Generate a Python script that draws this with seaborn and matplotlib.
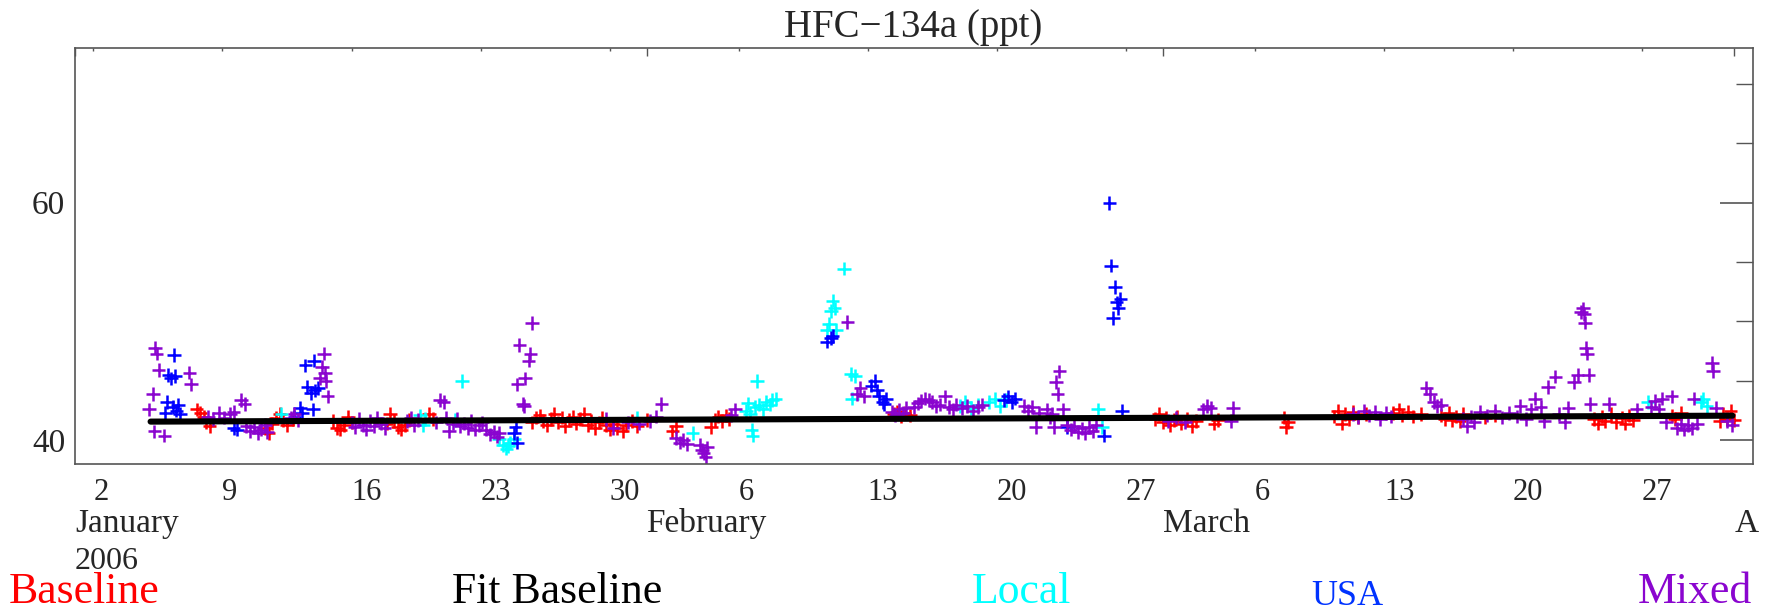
import matplotlib
matplotlib.use("Agg")
import matplotlib.pyplot as plt
import matplotlib.dates as mdates
import matplotlib.ticker as mticker
from matplotlib.transforms import blended_transform_factory
import pandas as pd
import seaborn as sns

START = pd.Timestamp("2006-01-01")

# days after 2006-01-01 00:00, mixing ratio in ppt
baseline_days = [
    6.6, 6.8, 7.0, 7.1, 7.3, 10.3, 10.5, 10.7, 10.9, 11.1, 11.3, 11.5, 11.8,
    14.0, 14.2, 14.4, 14.6, 14.8, 15.0, 16.9, 17.1, 17.3, 17.5, 17.7, 17.9, 18.1,
    19.2, 19.4, 24.8, 25.0, 25.2, 25.4, 25.6, 25.8, 26.0, 26.2, 26.4, 26.6, 26.8,
    27.0, 27.2, 27.4, 27.6, 27.8, 28.0, 28.2, 28.4, 28.6, 28.8, 29.0, 29.2, 29.4,
    29.7, 29.9, 30.2, 30.5, 31.0, 32.4, 32.6, 34.5, 34.7, 34.9, 35.1, 35.3, 35.5,
    44.4, 44.6, 44.8, 45.0, 45.3, 58.6, 58.8, 59.0, 59.2, 59.4, 59.6, 59.8, 60.0,
    60.3, 60.6, 60.8, 61.8, 62.0, 65.6, 65.7, 65.8, 68.3, 68.5, 68.7, 68.9, 69.1,
    69.3, 69.6, 70.0, 71.5, 71.8, 72.0, 72.3, 72.6, 73.0, 74.1, 74.3, 74.5, 74.7,
    74.9, 75.1, 75.3, 76.5, 77.0, 82.4, 82.6, 82.8, 83.0, 83.3, 83.6, 83.9, 84.1,
    84.3, 84.5, 86.6, 86.8, 87.1, 89.2, 89.4, 89.6, 89.8, 90.0,
]
baseline_ppt = [
    42.6, 42.3, 42.0, 41.5, 41.2, 41.0, 40.6, 41.4, 41.9, 42.2, 41.7, 41.3, 41.8,
    41.6, 41.0, 40.9, 41.3, 42.0, 41.5, 41.4, 42.2, 41.6, 41.1, 40.9, 41.3, 41.7,
    42.2, 41.8, 41.5, 41.9, 42.1, 41.6, 41.3, 41.8, 42.2, 41.5, 41.9, 41.2, 41.7,
    42.0, 41.4, 41.8, 42.2, 41.3, 41.6, 41.0, 41.5, 41.9, 41.3, 40.9, 41.4, 41.0,
    40.75, 41.3, 41.6, 41.2, 41.7, 40.75, 41.2, 41.1, 41.7, 42.0, 41.6, 42.1, 41.8,
    42.2, 42.4, 42.0, 42.3, 42.1, 41.8, 42.2, 41.5, 41.9, 41.3, 41.7, 42.0, 41.4,
    41.8, 41.2, 41.6, 41.4, 41.7, 41.9, 41.1, 41.5, 42.0, 42.5, 41.4, 42.2, 41.8,
    42.4, 41.9, 42.2, 42.3, 42.6, 42.1, 42.4, 42.0, 42.2, 42.1, 41.8, 42.3, 41.7,
    42.0, 41.6, 42.2, 41.9, 42.1, 41.8, 41.4, 42.0, 41.6, 42.2, 41.5, 41.9, 41.4,
    42.1, 41.7, 42.1, 41.8, 42.3, 41.6, 42.2, 41.8, 42.5, 41.7,
]

local_days = [
    11.2, 18.7, 18.9, 19.0, 20.6, 21.0, 23.0, 23.2, 23.4, 23.5, 23.6, 23.8,
    30.5, 33.5, 36.4, 36.5, 36.6, 36.7, 36.75, 36.9, 37.0, 37.1, 37.3, 37.5,
    37.7, 37.8, 38.0, 40.8, 40.9, 41.0, 41.1, 41.2, 41.3, 41.7, 42.1, 42.15,
    42.3, 48.0, 48.3, 48.6, 49.0, 49.6, 49.9, 50.2, 50.5, 55.5, 55.7, 85.3,
    88.2, 88.3, 88.5,
]
local_ppt = [
    42.2, 42.1, 41.3, 41.8, 41.7, 45.0, 40.1, 39.6, 39.3, 39.5, 39.8, 40.1,
    41.9, 40.6, 42.5, 43.1, 42.2, 40.9, 40.4, 42.8, 45.0, 43.0, 42.6, 43.2,
    43.0, 43.4, 43.5, 49.3, 49.8, 50.9, 51.75, 51.1, 49.3, 54.45, 45.6, 43.5,
    45.4, 42.9, 43.2, 42.7, 43.0, 43.2, 43.5, 42.9, 43.4, 42.6, 41.1, 43.2,
    43.2, 43.5, 42.9,
]

usa_days = [
    4.9, 5.0, 5.06, 5.2, 5.3, 5.37, 5.45, 5.5, 5.6, 5.7, 8.6, 8.8, 11.9, 12.2,
    12.3, 12.5, 12.6, 12.8, 12.9, 12.95, 13.0, 13.2, 23.8, 23.9, 24.0, 40.8,
    41.0, 41.1, 43.2, 43.4, 43.5, 43.6, 43.8, 43.9, 44.0, 50.4, 50.6, 50.8,
    51.0, 53.8, 55.8, 56.1, 56.2, 56.3, 56.4, 56.5, 56.6, 56.7, 56.8,
]
usa_ppt = [
    42.3, 43.2, 45.5, 45.2, 42.8, 47.2, 45.4, 42.5, 43.0, 42.2, 41.0, 40.9, 42.0,
    42.7, 42.3, 46.3, 44.5, 44.0, 42.6, 46.7, 44.2, 44.4, 40.6, 41.1, 39.8, 48.3,
    48.6, 48.8, 44.6, 45.0, 44.2, 43.7, 43.2, 43.05, 43.5, 43.4, 43.7, 43.2,
    43.5, 41.1, 40.4, 59.97, 54.7, 50.3, 52.9, 51.6, 51.1, 51.9, 42.5,
]

mixed_days = [
    4.0, 4.23, 4.33, 4.43, 4.3, 4.54, 4.85, 6.2, 6.3, 7.2, 7.5, 7.8, 8.1, 8.4,
    8.6, 9.0, 9.2, 9.3, 9.5, 9.7, 9.9, 10.1, 10.3, 10.4, 11.7, 11.9, 12.1, 13.3,
    13.4, 13.5, 13.55, 13.6, 13.7, 15.0, 15.2, 15.4, 15.6, 15.8, 16.0, 16.2, 16.4,
    16.6, 16.8, 18.0, 18.2, 18.4, 18.6, 19.6, 19.8, 20.0, 20.1, 20.3, 20.5, 20.7,
    20.9, 21.1, 21.3, 21.5, 21.7, 21.9, 22.1, 22.3, 22.5, 22.7, 22.9, 23.0, 24.0,
    24.1, 24.3, 24.35, 24.4, 24.6, 24.7, 24.8, 28.8, 29.2, 30.0, 30.6, 31.2, 31.5,
    31.8, 32.6, 32.8, 33.0, 33.2, 33.9, 34.0, 34.1, 34.2, 34.3, 35.6, 35.8, 41.9,
    42.4, 42.6, 42.8, 44.3, 44.5, 44.7, 44.9, 45.1, 45.5, 45.7, 45.9, 46.1, 46.3,
    46.5, 46.7, 46.9, 47.2, 47.4, 47.6, 47.8, 48.1, 48.4, 48.7, 49.0, 49.2, 51.5,
    51.7, 51.9, 52.1, 52.3, 52.7, 52.9, 53.0, 53.1, 53.2, 53.3, 53.4, 53.6, 53.8,
    54.0, 54.2, 54.4, 54.6, 54.8, 55.0, 55.2, 55.4, 59.3, 59.7, 60.2, 61.2, 61.4,
    61.6, 62.7, 62.8, 69.3, 69.6, 69.9, 70.2, 70.5, 70.8, 71.1, 71.4, 73.3, 73.5,
    73.7, 73.9, 74.1, 75.3, 75.5, 75.7, 75.9, 76.2, 76.6, 77.0, 77.4, 77.8, 78.2,
    78.4, 78.7, 79.0, 79.2, 79.5, 79.7, 79.9, 80.3, 80.5, 80.8, 81.0, 81.3, 81.5,
    81.7, 81.8, 81.85, 81.9, 81.95, 82.0, 82.1, 82.2, 83.2, 84.7, 85.5, 85.7,
    85.9, 86.1, 86.3, 86.6, 86.9, 87.1, 87.3, 87.5, 87.7, 87.8, 88.0, 88.8,
    88.85, 89.0, 89.6, 89.9,
]
mixed_ppt = [
    42.6, 43.9, 47.8, 47.3, 40.75, 45.9, 40.4, 45.7, 44.7, 42.0, 41.8, 42.3, 41.9,
    42.2, 42.4, 43.4, 43.05, 41.2, 40.8, 41.1, 40.6, 40.9, 41.3, 40.7, 41.9, 42.2,
    41.7, 45.2, 46.2, 47.3, 45.7, 45.0, 43.7, 41.5, 41.1, 41.8, 41.3, 40.9, 41.6,
    41.2, 41.9, 41.4, 41.0, 41.6, 41.9, 41.3, 41.7, 41.5, 43.4, 43.2, 41.9, 40.75,
    41.4, 41.8, 41.2, 41.4, 41.0, 41.6, 40.9, 41.3, 41.5, 40.9, 40.5, 40.7, 40.3,
    40.6, 44.7, 48.0, 43.05, 42.9, 45.2, 46.7, 47.3, 49.85, 41.8, 41.0, 41.5,
    41.4, 41.6, 42.0, 43.05, 40.2, 39.8, 40.0, 39.7, 39.6, 39.2, 38.9, 38.6, 39.4,
    42.1, 42.6, 49.95, 43.9, 44.4, 43.7, 42.4, 42.1, 42.6, 42.3, 42.7, 42.8, 43.1,
    43.3, 43.5, 43.4, 43.2, 42.9, 43.0, 43.7, 42.8, 42.6, 43.0, 42.7, 42.9, 42.5,
    42.8, 43.0, 42.9, 42.5, 42.8, 41.1, 42.3, 42.6, 41.9, 42.2, 41.1, 44.9, 43.9,
    45.8, 42.6, 41.3, 40.9, 41.2, 40.7, 41.0, 40.6, 41.1, 40.8, 41.3, 41.6, 41.9,
    41.5, 42.6, 42.9, 42.7, 41.6, 42.7, 42.2, 41.9, 42.5, 42.1, 42.4, 41.8, 42.3,
    42.0, 44.4, 43.9, 43.2, 42.9, 43.0, 41.8, 41.2, 42.0, 41.5, 42.4, 42.1, 42.5,
    41.9, 42.3, 42.0, 42.9, 41.8, 42.6, 43.5, 42.8, 41.6, 44.5, 45.35, 42.2, 41.5,
    42.7, 44.9, 45.5, 50.8, 51.1, 50.6, 49.9, 47.8, 47.3, 45.5, 43.05, 43.05, 42.6,
    42.8, 43.3, 42.6, 43.5, 41.5, 43.7, 41.0, 41.4, 40.9, 41.3, 41.0, 43.5, 41.4,
    46.5, 45.85, 42.7, 41.6, 41.3,
]

fit_days = [4.1, 89.9]
fit_ppt = [41.57, 42.07]

month_starts = ["2006-01-01", "2006-02-01", "2006-03-01", "2006-04-01"]
month_labels = ["January", "February", "March", "A"]

COLORS = {
    "Baseline": "#ff0000",
    "Local": "#00ffff",
    "USA": "#0000ff",
    "Mixed": "#8a05cf",
}


def to_dates(days):
    return START + pd.to_timedelta(days, unit="D")


def main() -> None:
    sns.set_style("white")
    plt.rcParams["font.family"] = ["Liberation Serif", "DejaVu Serif"]

    frames = []
    for name, days, ppt in [
        ("Baseline", baseline_days, baseline_ppt),
        ("Local", local_days, local_ppt),
        ("USA", usa_days, usa_ppt),
        ("Mixed", mixed_days, mixed_ppt),
    ]:
        frames.append(pd.DataFrame({"time": to_dates(days), "ppt": ppt, "source": name}))
    points = pd.concat(frames, ignore_index=True)
    fit = pd.DataFrame({"time": to_dates(fit_days), "ppt": fit_ppt})

    fig = plt.figure(figsize=(17.73, 6.12), dpi=100)
    ax = fig.add_axes([0.0423, 0.2418, 0.94625, 0.6793])

    sns.scatterplot(
        data=points, x="time", y="ppt", hue="source", palette=COLORS,
        marker="+", s=95, linewidth=1.8, legend=False, ax=ax, zorder=2,
    )
    sns.lineplot(data=fit, x="time", y="ppt", color="black", linewidth=4.4,
                 ax=ax, zorder=3)

    ax.set_xlim(pd.Timestamp("2006-01-01"), pd.Timestamp("2006-04-02"))
    ax.set_ylim(38, 73)
    ax.set_xlabel("")
    ax.set_ylabel("")

    ax.xaxis.set_major_locator(mdates.WeekdayLocator(byweekday=mdates.MO))
    ax.xaxis.set_minor_locator(mdates.MonthLocator())
    ax.xaxis.set_major_formatter(
        mticker.FuncFormatter(lambda v, pos: str(mdates.num2date(v).day))
    )
    ax.yaxis.set_major_locator(mticker.FixedLocator([40, 60]))
    ax.yaxis.set_minor_locator(mticker.MultipleLocator(5))

    edge = "#555555"
    for side in ax.spines.values():
        side.set_color(edge)
        side.set_linewidth(1.2)
    ax.tick_params(axis="x", which="major", direction="in", length=2.5, width=1.0,
                   top=True, color=edge, labelsize=22, pad=10)
    ax.tick_params(axis="x", which="minor", direction="in", length=6, width=1.0,
                   top=True, color=edge)
    ax.tick_params(axis="y", which="major", direction="in", length=24, width=1.2,
                   right=True, color=edge, labelsize=24, pad=7)
    ax.tick_params(axis="y", which="minor", direction="in", length=12, width=1.0,
                   right=True, color=edge)
    plt.setp(ax.xaxis.get_majorticklabels(), ha="left")

    trans = blended_transform_factory(ax.transData, fig.transFigure)
    for start, label in zip(month_starts, month_labels):
        ax.text(pd.Timestamp(start), 0.131, label, transform=trans,
                ha="left", va="baseline", fontsize=24)
    ax.text(pd.Timestamp(month_starts[0]), 0.071, "2006", transform=trans,
            ha="left", va="baseline", fontsize=23)

    fig.text(0.5152, 0.9395, "HFC\u2212134a (ppt)", ha="center", va="baseline",
             fontsize=28)

    legend_items = [
        ("Baseline", 0.0047, 0.0142, 31.5, COLORS["Baseline"]),
        ("Fit Baseline", 0.2548, 0.0142, 31.5, "black"),
        ("Local", 0.548, 0.0142, 31.5, COLORS["Local"]),
        ("USA", 0.7398, 0.012, 26, "#0033ff"),
        ("Mixed", 0.9235, 0.0142, 31.5, COLORS["Mixed"]),
    ]
    for text, x, y, size, color in legend_items:
        fig.text(x, y, text, ha="left", va="baseline", fontsize=size, color=color)

    fig.savefig("out.png", dpi=100)
    plt.close(fig)


if __name__ == "__main__":
    main()
